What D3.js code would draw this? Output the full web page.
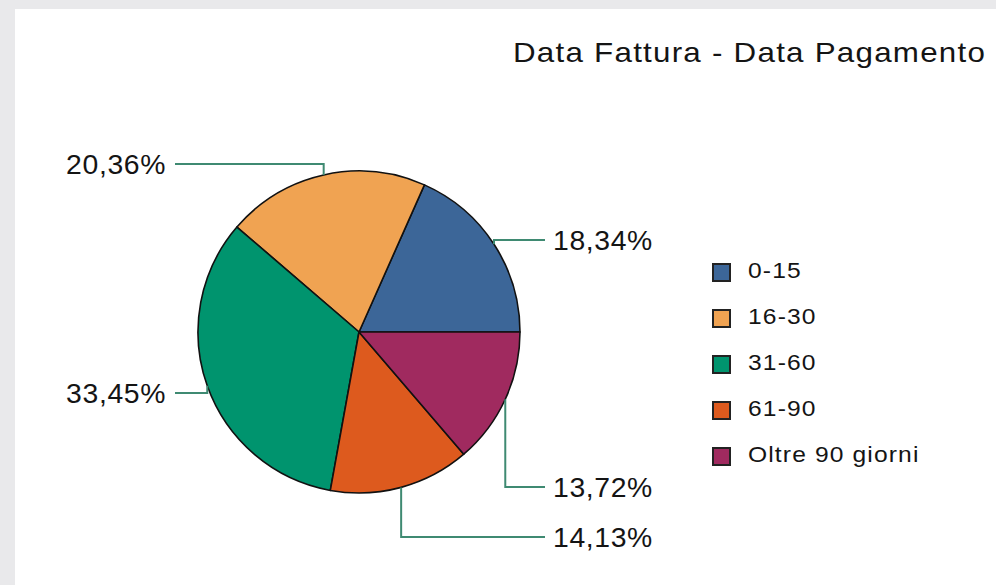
<!DOCTYPE html>
<html>
<head>
<meta charset="utf-8">
<script src="https://cdn.jsdelivr.net/npm/d3@7"></script>
<style>
  html, body { margin: 0; padding: 0; background: #e9e9eb; }
  svg { display: block; }
  text { font-family: "Liberation Sans", Arial, sans-serif; fill: #141414; }
</style>
</head>
<body>
<script>
//-----------------Data----------------

const categories = ["0-15", "16-30", "31-60", "61-90", "Oltre 90 giorni"];
const shares = [18.34, 20.36, 33.45, 14.13, 13.72];
const colors = ["#3c6698", "#f0a352", "#00946e", "#dd5a1e", "#a02a5f"];
const title = "Data Fattura - Data Pagamento";

// label placement: vertical position of each leader, in pie radii from the centre
const labelDy = [-0.571, -1.043, 0.379, 1.273, 0.963];

//-----------------Main svg------------------

const width = 996;
const height = 585;
const cx = 359;
const cy = 332;
const radius = 161;

const svg = d3.select("body").append("svg").attr("width", width).attr("height", height);

// white panel over the grey page
svg.append("rect").attr("x", 15).attr("y", 9).attr("width", width - 15).attr("height", height - 9).attr("fill", "#ffffff");

// text in the picture is a little wider than the plain font
function wideText(parent, str, x, y, size, sx, spacing, anchor) {
  return parent
    .append("text")
    .text(str)
    .attr("transform", "translate(" + x + "," + y + ") scale(" + sx + ",1)")
    .style("font-size", size + "px")
    .style("letter-spacing", spacing + "px")
    .style("text-anchor", anchor || "start");
}

wideText(svg, title, 513, 62, 28, 1.12, 1.1);

//-----------------Pie----------------

const data = categories.map((c, i) => ({ cat: c, value: shares[i], color: colors[i], dy: labelDy[i] }));

// counter-clockwise from 3 o'clock
const pie = d3
  .pie()
  .value((d) => d.value)
  .sort(null)
  .startAngle(Math.PI / 2)
  .endAngle(Math.PI / 2 - 2 * Math.PI);

const arc = d3.arc().innerRadius(0).outerRadius(radius);
const arcs = pie(data);

const g = svg.append("g").attr("transform", "translate(" + cx + "," + cy + ")");

g.selectAll("path.slice")
  .data(arcs)
  .enter()
  .append("path")
  .attr("class", "slice")
  .attr("d", arc)
  .attr("fill", (d) => d.data.color)
  .attr("stroke", "#111")
  .attr("stroke-width", 1.6)
  .attr("stroke-linejoin", "round");

//-----------------Labels with leader lines----------------

const fmt = (v) => v.toFixed(2).replace(".", ",") + "%";

arcs.forEach((d) => {
  const mid = (d.startAngle + d.endAngle) / 2;
  const ex = radius * Math.sin(mid);
  const ey = -radius * Math.cos(mid);
  const ly = d.data.dy * radius;
  const right = ex > 0;
  const lineEnd = right ? 545 - cx : 175 - cx;
  const textX = right ? 553 - cx : 166 - cx;

  g.append("polyline")
    .attr("points", [[ex, ey], [ex, ly], [lineEnd, ly]].map((p) => p.join(",")).join(" "))
    .attr("fill", "none")
    .attr("stroke", "#3f8a72")
    .attr("stroke-width", 2);

  wideText(g, fmt(d.data.value), textX, ly + 10, 27, 1.05, 0.6, right ? "start" : "end");
});

//-----------------Legend----------------

const legend = svg.append("g").attr("transform", "translate(712,263)");
const rowStep = 46;

const rows = legend
  .selectAll("g.row")
  .data(data)
  .enter()
  .append("g")
  .attr("class", "row")
  .attr("transform", (d, i) => "translate(0," + i * rowStep + ")");

rows
  .append("rect")
  .attr("x", 1)
  .attr("y", 1)
  .attr("width", 17)
  .attr("height", 17)
  .attr("fill", (d) => d.color)
  .attr("stroke", "#222")
  .attr("stroke-width", 2);

rows.each(function (d) {
  wideText(d3.select(this), d.cat, 36, 15, 22, 1.12, 1);
});
</script>
</body>
</html>
